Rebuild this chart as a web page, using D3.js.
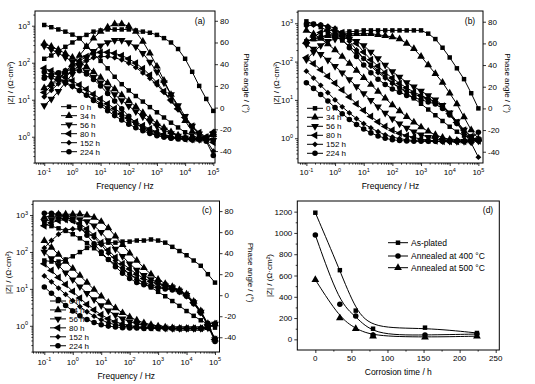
<!DOCTYPE html>
<html><head><meta charset="utf-8">
<script src="https://cdn.jsdelivr.net/npm/d3@7"></script>
<style>body{margin:0;background:#fff}svg text{font-family:"Liberation Sans",Arial,sans-serif;fill:#000}</style>
</head><body>
<svg id="chart" width="535" height="384"></svg>
<script>
// ---------- shared categories / ticks ----------
const freq = [0.1,0.178,0.316,0.562,1,1.78,3.16,5.62,10,17.8,31.6,56.2,100,178,316,562,1000,1780,3160,5620,10000,17800,31600,56200,100000];
const times = ["0 h","34 h","56 h","80 h","152 h","224 h"];
const freqTicks = [0.1,1,10,100,1000,10000,100000];
const freqTickExp = ["-1","0","1","2","3","4","5"];
const zTicks = [1,10,100,1000];
const zTickExp = ["0","1","2","3"];
const phaseTicks = [-40,-20,0,20,40,60,80];

// ---------- panel (a) ----------
const aZ0   = [1047,912,794,692,575,457,282,178,112,70.8,41.7,26.3,17.8,12.6,8.91,6.31,4.57,3.31,2.40,1.78,1.32,1.07,0.93,0.87,0.83];
const aZ34  = [331,275,224,178,138,105,77.6,56.2,39.8,28.2,19.5,13.5,9.33,6.46,4.47,3.16,2.29,1.74,1.35,1.10,0.95,0.87,0.85,0.89,1.26];
const aZ56  = [282,229,182,141,107,79.4,57.5,40.7,28.8,20.0,13.8,9.55,6.76,4.79,3.47,2.57,1.95,1.51,1.23,1.05,0.93,0.87,0.85,0.91,1.20];
const aZ80  = [70.8,60.3,50.1,40.7,32.4,25.1,19.1,14.1,10.5,7.76,5.75,4.27,3.24,2.51,2.0,1.62,1.35,1.15,1.02,0.93,0.87,0.85,0.85,0.93,1.32];
const aZ152 = [44.7,38.9,33.1,27.5,22.4,17.8,13.8,10.5,7.94,6.03,4.57,3.55,2.75,2.19,1.78,1.48,1.26,1.10,1.0,0.91,0.87,0.83,0.83,0.89,1.12];
const aZ224 = [56.2,46.8,38.0,30.2,23.4,17.8,13.2,9.55,6.92,5.01,3.72,2.82,2.19,1.74,1.45,1.23,1.07,0.98,0.91,0.87,0.85,0.83,0.85,0.91,1.26];
const aP0   = [45,48,52,56,60,64,67,70,71,72,72,72,72,71,70,69,67,64,60,54,45,33,20,8,-3];
const aP34  = [18,22,27,33,40,48,56,64,70,74,77,77,75,70,61,50,38,25,12,0,-12,-22,-27,-28,-25];
const aP56  = [2,8,15,23,31,39,46,52,57,60,62,62,60,56,50,42,33,23,12,2,-8,-17,-24,-28,-30];
const aP80  = [14,20,26,32,38,43,47,50,51,51,50,48,45,41,36,30,23,15,7,-1,-9,-17,-23,-27,-32];
const aP152 = [10,16,22,28,34,39,43,46,47,47,46,44,41,37,32,27,21,14,6,-2,-10,-18,-24,-30,-40];
const aP224 = [27,30,32,34,35,34,31,26,20,13,6,-1,-8,-14,-19,-23,-25,-27,-28,-28,-28,-28,-29,-31,-44];

// ---------- panel (b) ----------
const bZ0   = [1122,955,794,631,479,355,251,178,120,83.2,57.5,39.8,28.2,20.9,15.1,11.0,7.94,5.62,3.98,2.82,2.0,1.48,1.17,1.0,0.89];
const bZ34  = [646,525,398,288,200,135,89.1,58.9,38.0,25.1,16.6,11.0,7.41,5.13,3.63,2.63,1.95,1.51,1.23,1.05,0.93,0.87,0.85,0.87,0.93];
const bZ56  = [282,214,155,110,75.9,51.3,33.9,22.4,14.8,9.77,6.61,4.57,3.24,2.40,1.86,1.48,1.23,1.07,0.95,0.89,0.85,0.83,0.83,0.85,0.91];
const bZ80  = [126,89.1,61.7,41.7,27.5,18.2,12.0,7.94,5.37,3.72,2.69,2.04,1.62,1.35,1.17,1.05,0.95,0.89,0.85,0.83,0.83,0.83,0.83,0.85,0.89];
const bZ152 = [56.2,37.2,24.0,15.5,10.0,6.61,4.57,3.24,2.40,1.86,1.48,1.23,1.07,0.98,0.91,0.87,0.85,0.83,0.83,0.81,0.81,0.81,0.83,0.85,0.89];
const bZ224 = [28.2,20.0,13.8,9.33,6.31,4.37,3.09,2.29,1.74,1.38,1.15,1.0,0.91,0.87,0.85,0.83,0.83,0.83,0.83,0.83,0.83,0.83,0.83,0.85,0.89];
const bP0   = [62,64,66,68,69,70,71,71,72,72,72,72,72,72,72,72,72,69,64,56,47,37,27,14,0];
const bP34  = [62,64,66,67,68,69,69,69,69,69,68,67,66,64,60,55,48,40,32,24,14,4,-8,-20,-28];
const bP56  = [45,52,58,62,64,65,64,62,58,52,46,40,34,29,24,20,16,12,8,3,-4,-12,-20,-26,-30];
const bP80  = [60,66,70,72,72,70,66,60,52,45,39,33,28,23,19,15,12,9,6,2,-5,-13,-20,-26,-30];
const bP152 = [76,77,77,76,74,69,62,54,46,39,33,28,23,19,16,13,11,9,6,2,-5,-14,-22,-32,-45];
const bP224 = [78,78,77,75,71,64,56,48,40,33,27,22,18,15,12,10,8,6,4,0,-6,-14,-22,-28,-22];

// ---------- panel (c) ----------
const cZ0   = [562,501,437,372,302,234,174,126,89.1,63.1,45.7,33.9,25.1,19.1,14.5,11.0,8.32,6.31,4.68,3.47,2.51,1.86,1.41,1.12,0.89];
const cZ34  = [200,132,85.1,55.0,35.5,22.9,14.8,9.55,6.31,4.27,3.02,2.24,1.74,1.41,1.20,1.07,0.98,0.91,0.87,0.85,0.85,0.85,0.85,0.89,1.12];
const cZ56  = [100,66.1,42.7,27.5,17.8,11.5,7.59,5.13,3.55,2.57,1.95,1.55,1.29,1.12,1.02,0.95,0.91,0.87,0.85,0.85,0.85,0.85,0.85,0.89,1.12];
const cZ80  = [47.9,31.6,20.4,13.2,8.51,5.62,3.80,2.69,2.0,1.55,1.29,1.12,1.02,0.95,0.91,0.89,0.87,0.87,0.85,0.85,0.85,0.85,0.85,0.89,1.15];
const cZ152 = [22.4,15.5,10.5,7.08,4.79,3.31,2.40,1.82,1.45,1.20,1.07,0.98,0.93,0.89,0.87,0.87,0.85,0.85,0.85,0.85,0.85,0.85,0.85,0.89,1.15];
const cZ224 = [11.2,7.59,5.13,3.55,2.51,1.86,1.48,1.23,1.07,0.98,0.93,0.89,0.87,0.87,0.85,0.85,0.85,0.85,0.85,0.85,0.85,0.85,0.85,0.89,1.12];
const cP0   = [33,32,32,34,37,41,45,47,49,50,50,51,51,52,52,53,52,50,46,42,38,33,28,20,12];
const cP34  = [74,76,77,77,77,77,76,74,70,64,56,48,40,33,26,20,15,11,8,5,1,-6,-15,-27,-42];
const cP56  = [70,72,73,73,73,72,70,66,60,52,44,37,30,24,19,15,12,9,7,4,0,-7,-16,-28,-42];
const cP80  = [66,69,71,72,71,68,63,57,50,43,36,30,25,20,16,13,11,9,7,4,0,-7,-16,-28,-42];
const cP152 = [45,52,58,62,63,63,60,55,48,40,33,26,20,15,12,10,8,7,6,4,0,-7,-16,-28,-43];
const cP224 = [78,78,77,75,71,65,57,49,41,34,27,21,16,12,10,8,7,6,5,3,-1,-8,-17,-29,-44];

// ---------- panel (d) ----------
const dTime = [0,34,56,80,152,224];
const dAsPlated = [1190,650,270,100,110,60];
const dAnn400   = [980,330,220,40,40,50];
const dAnn500   = [560,200,100,30,20,30];
const dSeriesNames = ["As-plated","Annealed at 400 \u00B0C","Annealed at 500 \u00B0C"];
const dXTicks = [0,50,100,150,200,250];
const dYTicks = [0,200,400,600,800,1000,1200];

// ---------- drawing ----------
const svg = d3.select("#chart");
const symTypes = [
  {t:d3.symbolSquare,   s:20, r:0},
  {t:d3.symbolTriangle, s:26, r:0},
  {t:d3.symbolTriangle, s:26, r:180},
  {t:d3.symbolTriangle, s:26, r:-90},
  {t:d3.symbolSquare,   s:17, r:45},
  {t:d3.symbolCircle,   s:24, r:0}
];
function marker(g, i, cx, cy) {
  g.append("path").attr("d", d3.symbol().type(symTypes[i].t).size(symTypes[i].s)())
    .attr("transform", `translate(${cx},${cy}) rotate(${symTypes[i].r})`).attr("fill","#000");
}
function supLabel(g, x, y, base, exp, anchor) {
  const t = g.append("text").attr("x",x).attr("y",y).attr("text-anchor",anchor).attr("font-size",8);
  t.append("tspan").text(base);
  t.append("tspan").attr("dy",-3.5).attr("font-size",5.5).text(exp);
}
function styleAxis(sel) {
  sel.select(".domain").remove();
  sel.selectAll(".tick line").attr("stroke","#000").attr("stroke-width",0.8);
  sel.selectAll(".tick text").remove();
}

function bode(o) {
  const g = svg.append("g");
  const x = d3.scaleLog().domain(o.xdom).range([o.left,o.right]);
  const yz = d3.scaleLog().domain(o.zdom).range([o.bottom,o.top]);
  const yp = d3.scaleLinear().domain(o.pdom).range([o.bottom,o.top]);
  const majF = new Set(freqTicks.map(v=>Math.round(Math.log10(v)*1000)));
  const minorF = x.ticks().filter(v=>!majF.has(Math.round(Math.log10(v)*1000)));
  const majZ = new Set(zTicks.map(v=>Math.round(Math.log10(v)*1000)));
  const minorZ = yz.ticks().filter(v=>!majZ.has(Math.round(Math.log10(v)*1000)));

  g.append("g").attr("transform",`translate(0,${o.bottom})`).call(d3.axisBottom(x).tickValues(freqTicks).tickSize(3)).call(styleAxis);
  g.append("g").attr("transform",`translate(0,${o.bottom})`).call(d3.axisBottom(x).tickValues(minorF).tickSize(1.6)).call(styleAxis);
  g.append("g").attr("transform",`translate(${o.left},0)`).call(d3.axisLeft(yz).tickValues(zTicks).tickSize(3)).call(styleAxis);
  g.append("g").attr("transform",`translate(${o.left},0)`).call(d3.axisLeft(yz).tickValues(minorZ).tickSize(1.6)).call(styleAxis);
  g.append("g").attr("transform",`translate(${o.right},0)`).call(d3.axisRight(yp).tickValues(phaseTicks).tickSize(3)).call(styleAxis);

  freqTicks.forEach((f,i)=>supLabel(g, x(f), o.tickY, "10", freqTickExp[i], "middle"));
  zTicks.forEach((z,i)=>supLabel(g, o.left-5, yz(z)+3, "10", zTickExp[i], "end"));
  phaseTicks.forEach(p=>g.append("text").attr("x",o.right+5).attr("y",yp(p)+3).attr("font-size",8).text(p));

  g.append("text").attr("x",(o.left+o.right)/2).attr("y",o.freqY).attr("text-anchor","middle").attr("font-size",8.5).text("Frequency / Hz");
  g.append("text").attr("transform",`translate(${o.titleLX},${(o.top+o.bottom)/2-4}) rotate(-90)`).attr("text-anchor","middle").attr("font-size",8).text("|Z| / (\u03A9\u00B7cm\u00B2)");
  g.append("text").attr("transform",`translate(${o.titleRX},${(o.top+o.bottom)/2-4}) rotate(90)`).attr("text-anchor","middle").attr("font-size",8).text("Phase angle / (\u00B0)");
  g.append("text").attr("x",o.tagX).attr("y",o.tagY).attr("text-anchor","middle").attr("font-size",8.5).text(o.tag);

  const lineZ = d3.line().x((d,i)=>x(freq[i])).y(d=>yz(d));
  const lineP = d3.line().x((d,i)=>x(freq[i])).y(d=>yp(d));
  o.Z.forEach(s=>g.append("path").attr("d",lineZ(s)).attr("fill","none").attr("stroke","#000").attr("stroke-width",1));
  o.P.forEach(s=>g.append("path").attr("d",lineP(s)).attr("fill","none").attr("stroke","#000").attr("stroke-width",1));
  o.Z.forEach((s,k)=>s.forEach((v,i)=>marker(g,k,x(freq[i]),yz(v))));
  o.P.forEach((s,k)=>s.forEach((v,i)=>marker(g,k,x(freq[i]),yp(v))));

  times.forEach((t,i)=>{
    const yy = o.ly + i*o.ldy;
    g.append("line").attr("x1",o.lx).attr("x2",o.lx+16).attr("y1",yy).attr("y2",yy).attr("stroke","#000").attr("stroke-width",1);
    marker(g,i,o.lx+8,yy);
    g.append("text").attr("x",o.lx+19).attr("y",yy+3).attr("font-size",8).text(t);
  });
  g.append("rect").attr("x",o.left).attr("y",o.top).attr("width",o.right-o.left).attr("height",o.bottom-o.top)
    .attr("fill","none").attr("stroke","#000").attr("stroke-width",1);
}

bode({left:35,right:215,top:11,bottom:163,xdom:[0.047,115000],zdom:[0.195,2500],pdom:[-51,89],
  Z:[aZ0,aZ34,aZ56,aZ80,aZ152,aZ224], P:[aP0,aP34,aP56,aP80,aP152,aP224],
  tag:"(a)",tagX:200,tagY:24,lx:61,ly:106.7,ldy:9,titleLX:13,titleRX:244,freqY:189,tickY:175});
bode({left:298,right:483,top:11,bottom:163,xdom:[0.051,145000],zdom:[0.226,2090],pdom:[-50.4,89.9],
  Z:[bZ0,bZ34,bZ56,bZ80,bZ152,bZ224], P:[bP0,bP34,bP56,bP80,bP152,bP224],
  tag:"(b)",tagX:470,tagY:24,lx:307,ly:108.3,ldy:9,titleLX:279,titleRX:505,freqY:189,tickY:175});
bode({left:33,right:219.5,top:201,bottom:352,xdom:[0.040,144000],zdom:[0.195,2400],pdom:[-54,89.6],
  Z:[cZ0,cZ34,cZ56,cZ80,cZ152,cZ224], P:[cP0,cP34,cP56,cP80,cP152,cP224],
  tag:"(c)",tagX:207,tagY:213,lx:50,ly:301,ldy:8.95,titleLX:11,titleRX:248,freqY:379,tickY:364.5});

// panel (d)
(function(){
  const L=297.3,R=499.3,T=201,B=350;
  const g = svg.append("g");
  const x = d3.scaleLinear().domain([-25,255]).range([L,R]);
  const y = d3.scaleLinear().domain([-100,1300]).range([B,T]);
  const xMinor = d3.range(25,250,50);
  const yMinor = d3.range(100,1300,200);
  g.append("g").attr("transform",`translate(0,${B})`).call(d3.axisBottom(x).tickValues(dXTicks).tickSize(3)).call(styleAxis);
  g.append("g").attr("transform",`translate(0,${B})`).call(d3.axisBottom(x).tickValues(xMinor).tickSize(1.6)).call(styleAxis);
  g.append("g").attr("transform",`translate(${L},0)`).call(d3.axisLeft(y).tickValues(dYTicks).tickSize(3)).call(styleAxis);
  g.append("g").attr("transform",`translate(${L},0)`).call(d3.axisLeft(y).tickValues(yMinor).tickSize(1.6)).call(styleAxis);
  dXTicks.forEach(v=>g.append("text").attr("x",x(v)).attr("y",B+11).attr("text-anchor","middle").attr("font-size",8).text(v));
  dYTicks.forEach(v=>g.append("text").attr("x",L-5).attr("y",y(v)+3).attr("text-anchor","end").attr("font-size",8).text(v));
  g.append("text").attr("x",(L+R)/2).attr("y",B+25).attr("text-anchor","middle").attr("font-size",8.5).text("Corrosion time / h");
  g.append("text").attr("transform",`translate(272,${(T+B)/2}) rotate(-90)`).attr("text-anchor","middle").attr("font-size",8).text("|Z| / (\u03A9\u00B7cm\u00B2)");
  g.append("text").attr("x",488).attr("y",213).attr("text-anchor","middle").attr("font-size",8.5).text("(d)");
  const series = [dAsPlated,dAnn400,dAnn500];
  const syms = [0,5,1];
  const ln = d3.line().x((d,i)=>x(dTime[i])).y(d=>y(d)).curve(d3.curveBasis);
  series.forEach((s,k)=>{
    g.append("path").attr("d",ln(s)).attr("fill","none").attr("stroke","#000").attr("stroke-width",1);
    s.forEach((v,i)=>marker(g,syms[k],x(dTime[i]),y(v)));
    const yy = [242.7,256,267.7][k];
    g.append("line").attr("x1",388).attr("x2",408).attr("y1",yy).attr("y2",yy).attr("stroke","#000").attr("stroke-width",1);
    marker(g,syms[k],398,yy);
    g.append("text").attr("x",411).attr("y",yy+3.2).attr("font-size",8.5).text(dSeriesNames[k]);
  });
  g.append("rect").attr("x",L).attr("y",T).attr("width",R-L).attr("height",B-T).attr("fill","none").attr("stroke","#000").attr("stroke-width",1);
})();
</script>
</body></html>
